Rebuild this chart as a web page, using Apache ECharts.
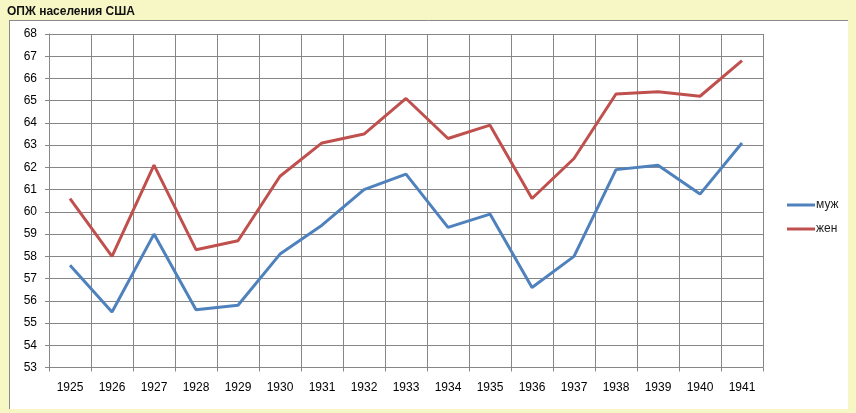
<!DOCTYPE html>
<html>
<head>
<meta charset="utf-8">
<script src="https://cdn.jsdelivr.net/npm/echarts@6/dist/echarts.min.js"></script>
<style>
  html, body { margin: 0; padding: 0; background: #F7F7C6; }
  #chart { width: 856px; height: 413px; }
</style>
</head>
<body>
<div id="chart"></div>
<script>
// годы и ОПЖ (лет)
var years = ['1925', '1926', '1927', '1928', '1929', '1930', '1931', '1932', '1933',
             '1934', '1935', '1936', '1937', '1938', '1939', '1940', '1941'];
var male = [57.6, 55.5, 59.0, 55.6, 55.8, 58.1, 59.4, 61.0, 61.7,
            59.3, 59.9, 56.6, 58.0, 61.9, 62.1, 60.8, 63.1];
var female = [60.6, 58.0, 62.1, 58.3, 58.7, 61.6, 63.1, 63.5, 65.1,
              63.3, 63.9, 60.6, 62.4, 65.3, 65.4, 65.2, 66.8];

var gridColor = '#868686';
var font = 'Liberation Sans';

var myChart = echarts.init(document.getElementById('chart'));
var option = {
  backgroundColor: '#F7F7C6',
  animation: false,
  textStyle: { fontFamily: font },
  title: {
    text: 'ОПЖ населения США',
    left: 2,
    top: 1,
    textStyle: { fontSize: 12, fontWeight: 'bold', color: '#111', fontFamily: font }
  },
  graphic: [
    // белая область диаграммы
    { type: 'rect', left: 9, top: 20, shape: { width: 839, height: 389 },
      style: { fill: '#fff' }, z: -1 },
    { type: 'line', shape: { x1: 9.5, y1: 20, x2: 9.5, y2: 409 },
      style: { stroke: '#8a8a8a', lineWidth: 1 }, z: -1 },
    { type: 'line', shape: { x1: 9, y1: 20.5, x2: 848, y2: 20.5 },
      style: { stroke: '#8a8a8a', lineWidth: 1 }, z: -1 }
  ],
  legend: {
    orient: 'vertical',
    left: 782,
    top: 194,
    icon: 'rect',
    itemWidth: 28,
    itemHeight: 3,
    itemGap: 12,
    textStyle: { fontSize: 12, color: '#222', padding: [0, 0, 0, -4] },
    data: ['муж', 'жен']
  },
  grid: { left: 49, top: 34, right: 93, bottom: 45.5 },
  xAxis: {
    type: 'category',
    data: years,
    boundaryGap: true,
    axisLine: { lineStyle: { color: gridColor } },
    axisTick: { show: true, length: 4, lineStyle: { color: gridColor } },
    axisLabel: { color: '#000', fontSize: 12, margin: 14 },
    splitLine: { show: true, lineStyle: { color: gridColor, width: 1 } }
  },
  yAxis: {
    type: 'value',
    min: 53,
    max: 68,
    interval: 1,
    axisLine: { show: true, lineStyle: { color: gridColor } },
    axisTick: { show: true, length: 4, lineStyle: { color: gridColor } },
    axisLabel: { color: '#000', fontSize: 12, margin: 12 },
    splitLine: { show: true, lineStyle: { color: gridColor, width: 1 } }
  },
  series: [
    {
      name: 'муж',
      type: 'line',
      data: male,
      symbol: 'none',
      color: '#4F81BD',
      lineStyle: { width: 3, color: '#4F81BD' }
    },
    {
      name: 'жен',
      type: 'line',
      data: female,
      symbol: 'none',
      color: '#C0504D',
      lineStyle: { width: 3, color: '#C0504D' }
    }
  ]
};
myChart.setOption(option);
</script>
</body>
</html>
